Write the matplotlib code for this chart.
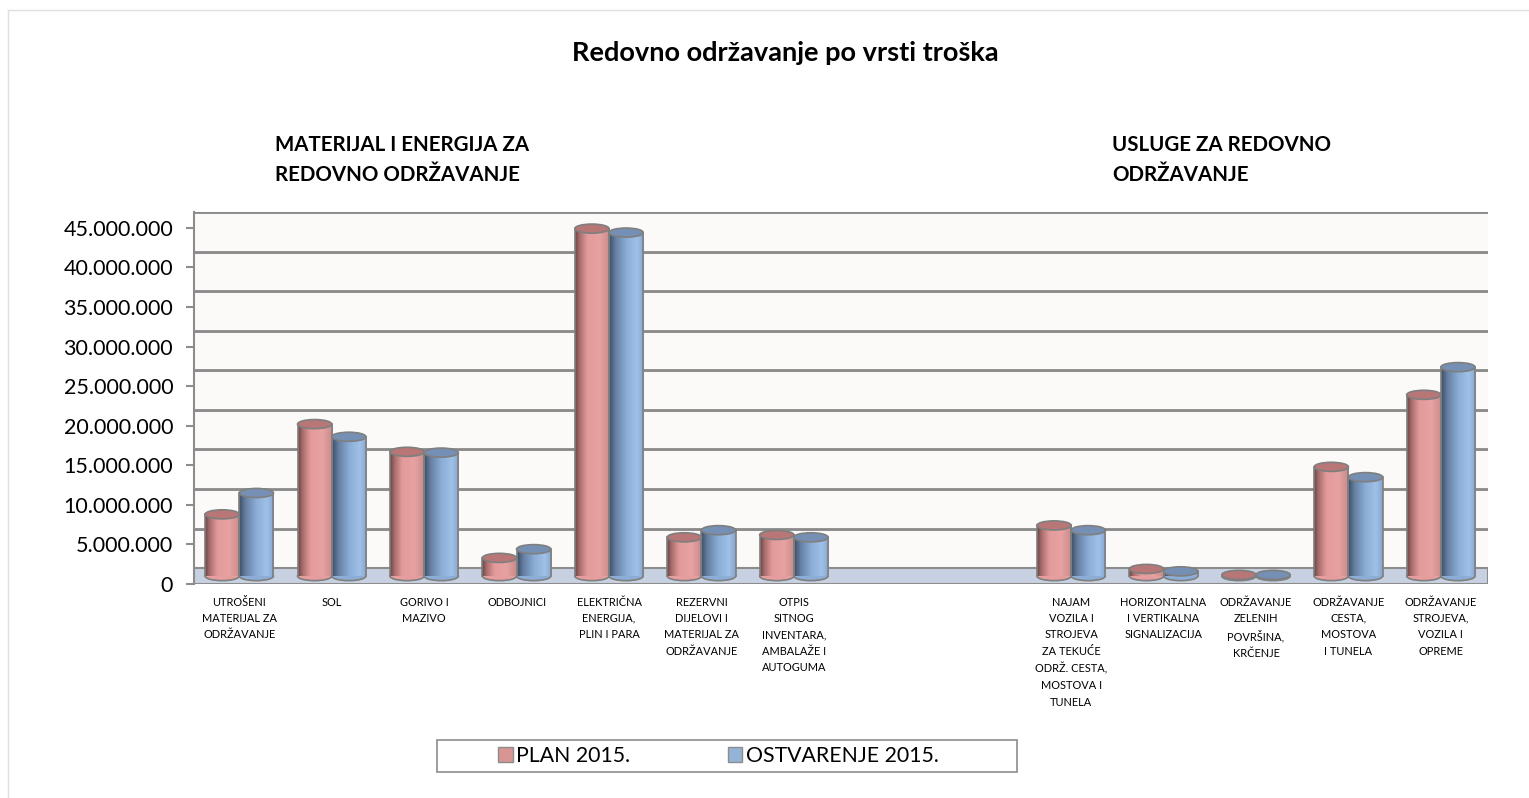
import numpy as np
import matplotlib
matplotlib.use("Agg")
import matplotlib.pyplot as plt
from matplotlib.colors import LinearSegmentedColormap
from matplotlib.patches import Ellipse, Rectangle, Patch
from matplotlib.ticker import FuncFormatter

plt.rcParams['font.family'] = ['Lato', 'DejaVu Sans']

# podaci (iznosi u kunama, očitano s grafa)
categories = [
    "UTROŠENI\nMATERIJAL ZA\nODRŽAVANJE",
    "SOL",
    "GORIVO I\nMAZIVO",
    "ODBOJNICI",
    "ELEKTRIČNA\nENERGIJA,\nPLIN I PARA",
    "REZERVNI\nDIJELOVI I\nMATERIJAL ZA\nODRŽAVANJE",
    "OTPIS\nSITNOG\nINVENTARA,\nAMBALAŽE I\nAUTOGUMA",
    "",
    "",
    "NAJAM\nVOZILA I\nSTROJEVA\nZA TEKUĆE\nODRŽ. CESTA,\nMOSTOVA I\nTUNELA",
    "HORIZONTALNA\nI VERTIKALNA\nSIGNALIZACIJA",
    "ODRŽAVANJE\nZELENIH\nPOVRŠINA,\nKRČENJE",
    "ODRŽAVANJE\nCESTA,\nMOSTOVA\nI TUNELA",
    "ODRŽAVANJE\nSTROJEVA,\nVOZILA I\nOPREME",
]
plan_2015 = [7.8e6, 19.2e6, 15.7e6, 2.3e6, 43.9e6, 4.9e6, 5.2e6, np.nan, np.nan,
             6.4e6, 0.9e6, 0.15e6, 13.8e6, 22.9e6]
ostvarenje_2015 = [10.5e6, 17.6e6, 15.6e6, 3.4e6, 43.4e6, 5.8e6, 4.9e6, np.nan, np.nan,
                   5.8e6, 0.6e6, 0.15e6, 12.5e6, 26.4e6]
y_ticks = [0, 5e6, 10e6, 15e6, 20e6, 25e6, 30e6, 35e6, 40e6, 45e6]
series_names = ["PLAN 2015.", "OSTVARENJE 2015."]

W, H = 1529, 798
fig = plt.figure(figsize=(W / 100, H / 100), dpi=100)
ax = fig.add_axes([194 / W, 1 - 584 / H, (1488 - 194) / W, (584 - 212) / H])

depth = 2e6        # pomak stražnjeg zida (3D efekt)
bar_w = 0.37
cap_h = 1.15e6     # visina elipse na vrhu valjka
xmin, xmax = -0.49, 13.51

red_cmap = LinearSegmentedColormap.from_list(
    "r", [(0, "#6b4242"), (0.12, "#a56a6a"), (0.35, "#e39a9a"), (0.7, "#e7a2a2"), (1, "#c98a8a")])
blue_cmap = LinearSegmentedColormap.from_list(
    "b", [(0, "#3d4e66"), (0.2, "#6882a6"), (0.5, "#8badd6"), (0.8, "#9fc1e8"), (1, "#86a5cc")])

# stražnji zid i pod
ax.add_patch(Rectangle((xmin, depth), xmax - xmin, 47e6 - depth, fc="#fbfaf8", ec="none", zorder=0))
ax.add_patch(Rectangle((xmin, 0), xmax - xmin, depth, fc="#c7d1e1", ec="#8c8c8c", lw=1.5, zorder=1))
for v in y_ticks[1:]:
    ax.axhline(v + depth - 0.12e6, color="#d4d4d4", lw=1.5, zorder=1)
    ax.axhline(v + depth, color="#8a8a8a", lw=2, zorder=1)


def cylinder(xc, val, cmap, top_color):
    if np.isnan(val):
        return
    x0, x1 = xc - bar_w / 2, xc + bar_w / 2
    base = depth / 2
    top = base + val
    ax.add_patch(Ellipse((xc, base), bar_w, cap_h, fc=cmap(0.5), ec="#7f7f7f", lw=1.2, zorder=2))
    grad = np.linspace(0, 1, 128)[None, :]
    ax.imshow(grad, cmap=cmap, extent=(x0, x1, base, top), aspect="auto", zorder=3,
              interpolation="bilinear")
    ax.plot([x0, x0], [base, top], color="#7f7f7f", lw=1.2, zorder=4)
    ax.plot([x1, x1], [base, top], color="#7f7f7f", lw=1.2, zorder=4)
    ax.add_patch(Ellipse((xc, top), bar_w, cap_h, fc=top_color, ec="#7f7f7f", lw=1.2, zorder=5))


x = np.arange(len(categories))
for i in x:
    cylinder(i - bar_w / 2, plan_2015[i], red_cmap, "#b87676")
    cylinder(i + bar_w / 2, ostvarenje_2015[i], blue_cmap, "#7590b4")

ax.set_xlim(xmin, xmax)
ax.set_ylim(0, 47e6)
ax.set_yticks(y_ticks)
ax.yaxis.set_major_formatter(FuncFormatter(lambda v, p: f"{int(v):,}".replace(",", ".")))
ax.tick_params(axis="y", length=6, width=1.5, color="#8c8c8c", labelsize=15.5, pad=9)
ax.set_xticks(x)
ax.set_xticklabels(categories, fontsize=7.9, linespacing=1.6, va="top")
ax.tick_params(axis="x", length=0, pad=9)
for s in ["top", "right", "bottom"]:
    ax.spines[s].set_visible(False)
ax.spines["left"].set_color("#8c8c8c")
ax.spines["left"].set_linewidth(1.5)

# naslovi
fig.text(785 / W, 1 - 53 / H, "Redovno održavanje po vrsti troška", ha="center", va="center",
         fontsize=19.5, fontweight="bold")
fig.text(275 / W, 1 - 160 / H, "MATERIJAL I ENERGIJA ZA\nREDOVNO ODRŽAVANJE", ha="left",
         va="center", fontsize=14.8, fontweight="bold", linespacing=1.62)
fig.text(1112 / W, 1 - 160 / H, "USLUGE ZA REDOVNO\nODRŽAVANJE", ha="left",
         va="center", fontsize=14.8, fontweight="bold", linespacing=1.62)

# legenda
fig.add_artist(Rectangle((437 / W, 1 - 772 / H), 580 / W, 32 / H, transform=fig.transFigure,
                         fill=False, ec="#8c8c8c", lw=1.2))
handles = [Patch(fc="#d99594", ec="#8c8c8c", label=series_names[0]),
           Patch(fc="#95b3d7", ec="#8c8c8c", label=series_names[1])]
fig.legend(handles=handles, loc="center", bbox_to_anchor=(718 / W, 1 - 756 / H), ncol=2,
           frameon=False, fontsize=15.3, handlelength=0.7, handleheight=0.7, handletextpad=0.15,
           columnspacing=4.6)

# okvir
fig.add_artist(plt.Line2D([8 / W, 1], [1 - 10 / H, 1 - 10 / H], transform=fig.transFigure,
                          color="#e0e0e0", lw=1))
fig.add_artist(plt.Line2D([8 / W, 8 / W], [0, 1 - 10 / H], transform=fig.transFigure,
                          color="#e0e0e0", lw=1))

fig.savefig("out.png", dpi=100, facecolor="white")
